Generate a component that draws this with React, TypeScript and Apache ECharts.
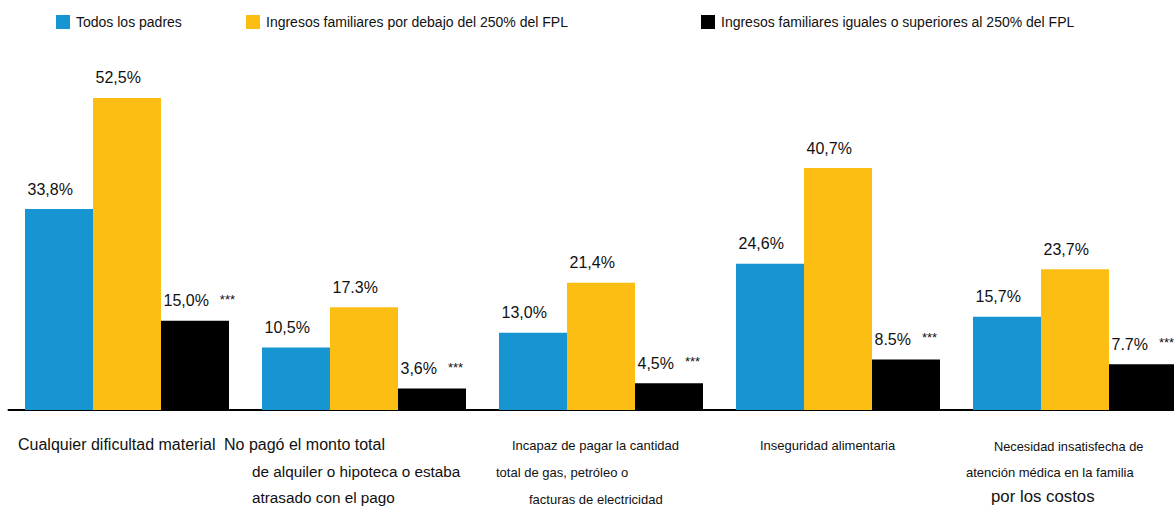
import React, { useEffect, useRef } from "react";
import * as echarts from "echarts";

// Categories (x axis) and the wrapped lines used to print them under the axis
const categories = [
  "Cualquier dificultad material",
  "No pagó el monto total de alquiler o hipoteca o estaba atrasado con el pago",
  "Incapaz de pagar la cantidad total de gas, petróleo o facturas de electricidad",
  "Inseguridad alimentaria",
  "Necesidad insatisfecha de atención médica en la familia por los costos",
];
const categoryLines = [
  ["Cualquier dificultad material"],
  ["No pagó el monto total", "de alquiler o hipoteca o estaba", "atrasado con el pago"],
  ["Incapaz de pagar la cantidad", "total de gas, petróleo o", "facturas de electricidad"],
  ["Inseguridad alimentaria"],
  ["Necesidad insatisfecha de", "atención médica en la familia", "por los costos"],
];

const seriesNames = [
  "Todos los padres",
  "Ingresos familiares por debajo del 250% del FPL",
  "Ingresos familiares iguales o superiores al 250% del FPL",
];

// Percent of parents reporting each hardship
const allParents = [33.8, 10.5, 13.0, 24.6, 15.7];
const belowFpl = [52.5, 17.3, 21.4, 40.7, 23.7];
const aboveFpl = [15.0, 3.6, 4.5, 8.5, 7.7];

// Printed value labels
const allParentsLabels = ["33,8%", "10,5%", "13,0%", "24,6%", "15,7%"];
const belowFplLabels = ["52,5%", "17.3%", "21,4%", "40,7%", "23,7%"];
const aboveFplLabels = ["15,0%", "3,6%", "4,5%", "8.5%", "7.7%"];
const significanceMark = "***";

const colors = ["#1795d3", "#fcbe12", "#000000"];
const FONT = "'Liberation Sans', Arial, Helvetica, sans-serif";

// Placement of each printed category line: [x, y, fontSize]
const categoryLinePlacement: number[][][] = [
  [[18, 444, 16]],
  [[224, 444, 16], [252, 471, 15.3], [252, 497, 15.3]],
  [[512, 445, 13], [496, 472, 13], [529, 499, 13]],
  [[760, 445, 13]],
  [[994, 446, 12.8], [966, 472, 13], [991, 496, 16.8]],
];

export default function App() {
  const ref = useRef<HTMLDivElement>(null);

  useEffect(() => {
    if (!ref.current) return;
    const chart = echarts.init(ref.current, undefined, { renderer: "svg" });

    const valueLabel = (texts: string[], withMark: boolean) => ({
      show: true,
      position: "top",
      distance: 12,
      align: "left",
      offset: [-31.5, 0],
      fontFamily: FONT,
      fontSize: 16,
      color: "#111",
      formatter: (p: any) =>
        withMark
          ? `{v|${texts[p.dataIndex]}}{s|${significanceMark}}`
          : texts[p.dataIndex],
      rich: {
        v: { fontFamily: FONT, fontSize: 16, color: "#111" },
        s: {
          fontFamily: FONT,
          fontSize: 13,
          color: "#111",
          verticalAlign: "top",
          padding: [0, 0, 0, 11],
        },
      },
    });

    const graphics: any[] = [];
    categoryLines.forEach((lines, ci) => {
      lines.forEach((line, li) => {
        const [x, y, size] = categoryLinePlacement[ci][li];
        graphics.push({
          type: "text",
          x,
          y,
          style: {
            text: line,
            fontFamily: FONT,
            fontSize: size,
            fill: "#111",
            textVerticalAlign: "middle",
            verticalAlign: "middle",
          },
        });
      });
    });

    const legendLefts = [51, 241, 696];

    chart.setOption({
      animation: false,
      color: colors,
      textStyle: { fontFamily: FONT },
      legend: seriesNames.map((name, i) => ({
        data: [name],
        left: legendLefts[i],
        top: 10,
        itemWidth: 14,
        itemHeight: 14,
        icon: "rect",
        selectedMode: false,
        textStyle: {
          fontFamily: FONT,
          fontSize: 14,
          color: "#111",
          padding: [6, 0, 0, 1],
        },
      })),
      // the last group runs past the visible right edge
      grid: { left: 8.5, top: 53.4, right: 0.5, bottom: 98 },
      xAxis: {
        type: "category",
        data: categories,
        axisLine: { show: true, lineStyle: { color: "#000", width: 2 } },
        axisTick: { show: false },
        axisLabel: { show: false },
      },
      yAxis: {
        type: "value",
        min: 0,
        max: 60,
        show: false,
        splitLine: { show: false },
      },
      series: [
        {
          name: seriesNames[0],
          type: "bar",
          data: allParents,
          barWidth: 68,
          barGap: "0%",
          label: valueLabel(allParentsLabels, false),
        },
        {
          name: seriesNames[1],
          type: "bar",
          data: belowFpl,
          barWidth: 68,
          barGap: "0%",
          label: valueLabel(belowFplLabels, false),
        },
        {
          name: seriesNames[2],
          type: "bar",
          data: aboveFpl,
          barWidth: 68,
          barGap: "0%",
          label: valueLabel(aboveFplLabels, true),
        },
      ],
      graphic: graphics,
    });

    return () => chart.dispose();
  }, []);

  return (
    <div
      style={{
        position: "absolute",
        left: 0,
        top: 0,
        width: 1174,
        height: 508,
        overflow: "hidden",
        background: "#fff",
      }}
    >
      <div ref={ref} style={{ width: 1194, height: 508 }} />
    </div>
  );
}
